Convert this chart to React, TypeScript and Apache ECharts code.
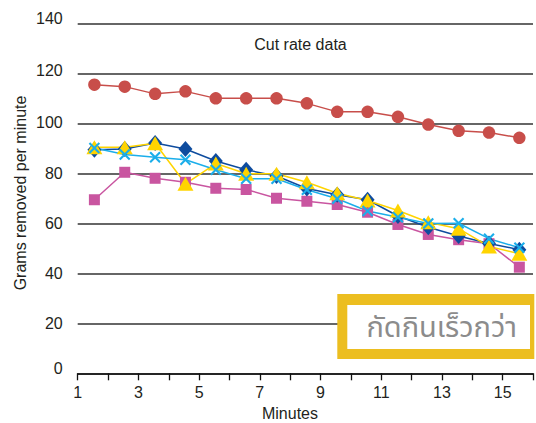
import React, { useEffect, useRef } from "react";
import * as echarts from "echarts";

const minutes = [1.55, 2.55, 3.55, 4.55, 5.55, 6.55, 7.55, 8.55, 9.55, 10.55, 11.55, 12.55, 13.55, 14.55, 15.55];
const redSeries = [115.6, 114.8, 111.9, 112.9, 110.1, 110.1, 110.1, 108.1, 104.7, 104.7, 102.7, 99.6, 97.1, 96.4, 94.3];
const blueSeries = [89.5, 89.8, 92.2, 89.8, 85.0, 81.5, 79.0, 74.0, 71.5, 69.5, 63.0, 58.5, 55.0, 52.0, 49.5];
const yellowSeries = [90.5, 90.5, 92.1, 75.9, 84.0, 79.9, 79.9, 76.5, 72.1, 69.2, 65.2, 60.5, 57.9, 50.8, 47.9];
const cyanSeries = [90.2, 87.6, 86.5, 85.5, 81.5, 77.9, 77.9, 73.5, 69.9, 65.0, 62.5, 60.0, 60.1, 53.9, 50.3];
const magentaSeries = [69.5, 80.5, 78.1, 76.5, 74.1, 73.6, 70.1, 68.9, 67.6, 64.5, 59.6, 55.6, 53.5, 51.9, 42.5];

const xTickLabels = ["1", "3", "5", "7", "9", "11", "13", "15"];
const yTickLabels = ["0", "20", "40", "60", "80", "100", "120", "140"];

const chartTitle = "Cut rate data";
const xName = "Minutes";
const yName = "Grams removed per minute";
const boxText = "กัดกินเร็วกว่า";

const FONT = "'Liberation Sans', Arial, Helvetica, sans-serif";
const TXT = "#231f20";

const pts = (vals: number[]) => vals.map((v, i) => [minutes[i], v]);

const X_SYMBOL = "path://M4.25,0 H5.75 V4.25 H10 V5.75 H5.75 V10 H4.25 V5.75 H0 V4.25 H4.25 Z";

export default function App() {
  const ref = useRef<HTMLDivElement>(null);
  useEffect(() => {
    if (!ref.current) return;
    const chart = echarts.init(ref.current, undefined, { renderer: "svg" });
    const line = (name: string, data: number[], color: string, symbol: string, size: any, extra: any = {}) => ({
      name,
      type: "line",
      data: pts(data),
      symbol,
      symbolSize: size,
      showSymbol: true,
      lineStyle: { color, width: 1.5 },
      itemStyle: { color, opacity: 1 },
      emphasis: { disabled: true },
      ...extra,
    });
    const yOff: Record<string, string> = { "140": "u5", "120": "u3", "100": "u1", "0": "u5" };
    chart.setOption({
      animation: false,
      grid: { left: 77.7, right: 2.3, top: 23.7, bottom: 49.7, containLabel: false },
      xAxis: {
        type: "value",
        min: 1,
        max: 16,
        interval: 1,
        axisLine: { show: true, lineStyle: { color: "#111", width: 1.5 } },
        axisTick: { show: true, length: 7, lineStyle: { color: "#111", width: 1.3 } },
        splitLine: { show: false },
        axisLabel: {
          margin: 11,
          fontSize: 16,
          fontFamily: FONT,
          color: TXT,
          showMaxLabel: true,
          showMinLabel: true,
          formatter: (v: number) => (xTickLabels.includes(String(v)) ? String(v) : ""),
        },
      },
      yAxis: {
        type: "value",
        min: 0,
        max: 140,
        interval: 20,
        axisLine: { show: false },
        axisTick: { show: false },
        splitLine: { show: true, lineStyle: { color: "#333", width: 1.5 } },
        axisLabel: {
          margin: 15,
          fontSize: 16,
          fontFamily: FONT,
          color: TXT,
          formatter: (v: number) => {
            const s = String(v);
            if (!yTickLabels.includes(s)) return "";
            const k = yOff[s];
            return k ? `{${k}|${s}}` : s;
          },
          rich: {
            u5: { fontSize: 16, fontFamily: FONT, color: TXT, padding: [0, 0, 10, 0] },
            u3: { fontSize: 16, fontFamily: FONT, color: TXT, padding: [0, 0, 6, 0] },
            u1: { fontSize: 16, fontFamily: FONT, color: TXT, padding: [0, 0, 3, 0] },
          },
        },
      },
      series: [
        line("red", redSeries, "#C84E4A", "circle", 12.5),
        line("magenta", magentaSeries, "#C955A0", "rect", 11),
        line("blue", blueSeries, "#0E4C9E", "diamond", [14, 16]),
        line("yellow", yellowSeries, "#FFD400", "triangle", [16, 14]),
        line("cyan", cyanSeries, "#1BAEEA", X_SYMBOL, 14, { symbolRotate: 45 }),
      ],
      graphic: [
        {
          type: "text",
          x: 300.5,
          y: 44,
          style: { text: chartTitle, fontSize: 16, fontFamily: FONT, fill: TXT, align: "center", verticalAlign: "middle" },
          silent: true,
        },
        {
          type: "text",
          x: 290,
          y: 413,
          style: { text: xName, fontSize: 16, fontFamily: FONT, fill: TXT, align: "center", verticalAlign: "middle" },
          silent: true,
        },
        {
          type: "text",
          x: 20,
          y: 193,
          rotation: Math.PI / 2,
          style: { text: yName, fontSize: 16, fontFamily: FONT, fill: TXT, align: "center", verticalAlign: "middle" },
          silent: true,
        },
        {
          type: "group",
          z: 100,
          children: [
            { type: "rect", shape: { x: 337.3, y: 294, width: 197, height: 65 }, style: { fill: "#ECBE20" }, z: 100 },
            { type: "rect", shape: { x: 347.3, y: 305, width: 182.7, height: 44 }, style: { fill: "#ffffff" }, z: 101 },
            {
              type: "text",
              x: 441.7,
              y: 328,
              z: 102,
              style: {
                text: boxText,
                fontSize: 29,
                fontFamily: "'Noto Sans Thai', 'Noto Sans', 'DejaVu Sans', sans-serif",
                fill: "#8C8C8C",
                align: "center",
                verticalAlign: "middle",
              },
            },
          ],
        },
      ],
    });
    return () => chart.dispose();
  }, []);
  return <div ref={ref} style={{ position: "fixed", left: 0, top: 0, width: 536, height: 423, background: "#fff" }} />;
}
